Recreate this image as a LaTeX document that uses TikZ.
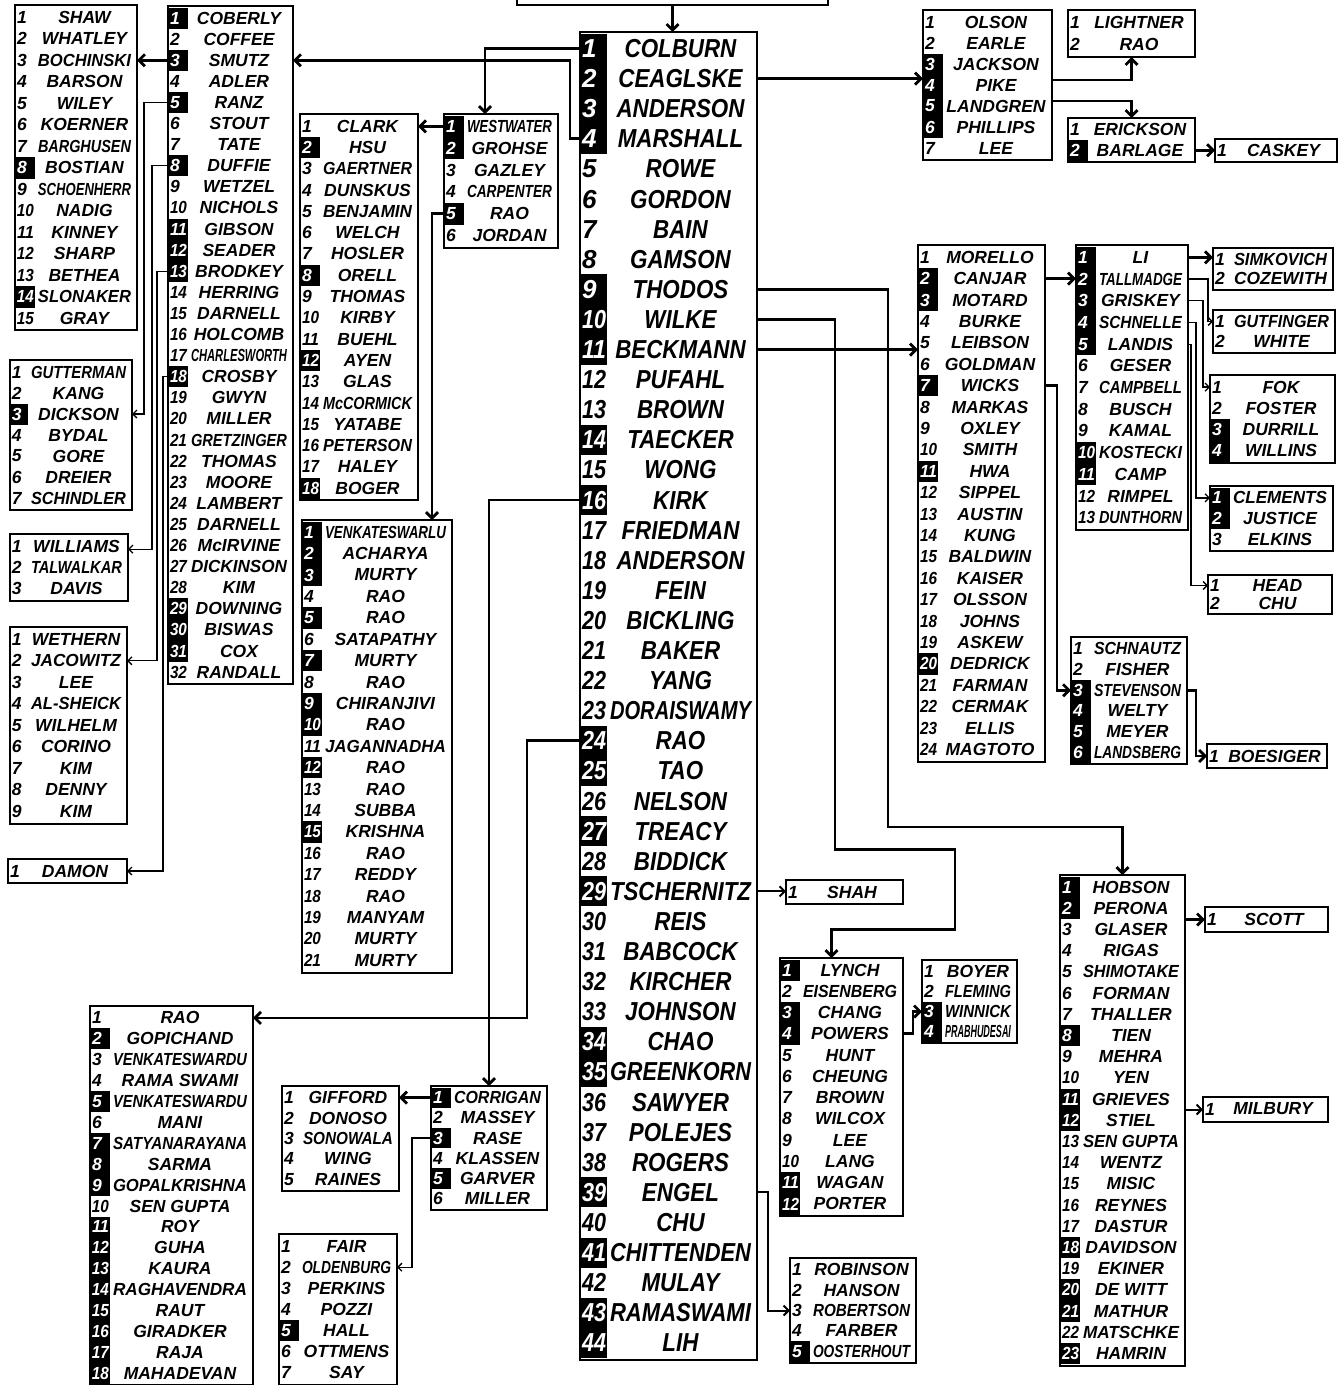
\documentclass[tikz,border=0pt]{standalone}
\usepackage{fontspec}
\setmainfont{Liberation Sans}
\usepackage{graphicx}
\usetikzlibrary{arrows.meta}

% squeeze a text so that it fits a width
\newsavebox\namebin
\newcommand{\namefit}[3]{%
  \sbox\namebin{#3}%
  \pgfmathsetmacro\namefac{min(#1,#2/\the\wd\namebin)}%
  \scalebox{\namefac}[1]{\usebox\namebin}}

% [number column]{name}{x}{y}{width}{height}{row pitch}{font size}{name/highlight,...}
\newcommand{\rollbox}[9][20]{%
  \node[listframe, minimum width=#5pt, minimum height=#6pt, anchor=north west] (#2) at (#3,#4) {};
  \pgfmathsetmacro\rbcap{#8>20 ? 0.86 : 1}%
  \pgfmathsetmacro\rbav{#5-#1-9}%
  \pgfmathsetmacro\rbnw{#1-3}%
  \def\rbfont{\fontsize{#8}{#8}\selectfont\bfseries\itshape}%
  \foreach \nm/\hl [count=\i] in {#9} {%
    \pgfmathsetmacro\ry{#4+(\i-0.5)*#7+1.5}%
    \node[rowslot, minimum width=#5pt, minimum height=#7pt] (#2-\i) at (#3+#5/2,\ry) {};
    \ifnum\hl=1
      \fill (#3,\ry-#7/2) rectangle ++(#1,#7);
      \def\rbtc{white}%
    \else
      \def\rbtc{black}%
    \fi
    \node[rowtext, font=\rbfont, text=\rbtc, anchor=west] at (#3+2,\ry) {\namefit{1}{\rbnw pt}{\i}};
    \node[rowtext, font=\rbfont] at (#3+#1+3+\rbav/2,\ry) {\namefit{\rbcap}{\rbav pt}{\nm}};
  }%
}

\begin{document}
\begin{tikzpicture}[
    x=1pt, y=-1pt,
    listframe/.style={draw, line width=1.6pt, inner sep=0pt, outer sep=0pt},
    rowslot/.style={inner sep=0pt, outer sep=0pt},
    rowtext/.style={inner sep=0pt, outer sep=0pt},
    feed/.style={line width=2.8pt, -{Straight Barb[length=6pt, width=12pt]}},
    midfeed/.style={line width=2pt, -{Straight Barb[length=5pt, width=10pt]}},
    thinfeed/.style={line width=1.3pt, -{Straight Barb[length=4pt, width=8pt]}},
    ]
    \useasboundingbox (0,0) rectangle (1339,1385);

    % Lists
    \node[listframe, minimum width=311pt, minimum height=40pt, anchor=south west] (source) at (517,5) {};
    \rollbox[27]{central}{580}{32}{177}{1328}{30.1}{26}{COLBURN/1, CEAGLSKE/1, ANDERSON/1, MARSHALL/1, ROWE/0, GORDON/0, BAIN/0, GAMSON/0, THODOS/1, WILKE/1, BECKMANN/1, PUFAHL/0, BROWN/0, TAECKER/1, WONG/0, KIRK/1, FRIEDMAN/0, ANDERSON/0, FEIN/0, BICKLING/0, BAKER/0, YANG/0, DORAISWAMY/0, RAO/1, TAO/1, NELSON/0, TREACY/1, BIDDICK/0, TSCHERNITZ/1, REIS/0, BABCOCK/0, KIRCHER/0, JOHNSON/0, CHAO/1, GREENKORN/1, SAWYER/0, POLEJES/0, ROGERS/0, ENGEL/1, CHU/0, CHITTENDEN/1, MULAY/0, RAMASWAMI/1, LIH/1}

    \rollbox{shaw}{15}{5}{122}{325}{21.5}{17.5}{SHAW/0, WHATLEY/0, BOCHINSKI/0, BARSON/0, WILEY/0, KOERNER/0, BARGHUSEN/0, BOSTIAN/1, SCHOENHERR/0, NADIG/0, KINNEY/0, SHARP/0, BETHEA/0, SLONAKER/1, GRAY/0}
    \rollbox{coberly}{168}{6}{125}{678}{21.1}{17.5}{COBERLY/1, COFFEE/0, SMUTZ/1, ADLER/0, RANZ/1, STOUT/0, TATE/0, DUFFIE/1, WETZEL/0, NICHOLS/0, GIBSON/1, SEADER/1, BRODKEY/1, HERRING/0, DARNELL/0, HOLCOMB/0, CHARLESWORTH/0, CROSBY/1, GWYN/0, MILLER/0, GRETZINGER/0, THOMAS/0, MOORE/0, LAMBERT/0, DARNELL/0, McIRVINE/0, DICKINSON/0, KIM/0, DOWNING/1, BISWAS/1, COX/1, RANDALL/0}
    \rollbox[18]{gutterman}{10}{360}{122}{150}{21}{17.5}{GUTTERMAN/0, KANG/0, DICKSON/1, BYDAL/0, GORE/0, DREIER/0, SCHINDLER/0}
    \rollbox[18]{williams}{10}{534}{118}{67}{21.3}{17.5}{WILLIAMS/0, TALWALKAR/0, DAVIS/0}
    \rollbox[18]{wethern}{10}{627}{117}{197}{21.5}{17.5}{WETHERN/0, JACOWITZ/0, LEE/0, AL-SHEICK/0, WILHELM/0, CORINO/0, KIM/0, DENNY/0, KIM/0}
    \rollbox[18]{damon}{8}{859}{119}{24}{21}{17.5}{DAMON/0}
    \rollbox{clark}{300}{114}{118}{386}{21.3}{17.5}{CLARK/0, HSU/1, GAERTNER/0, DUNSKUS/0, BENJAMIN/0, WELCH/0, HOSLER/0, ORELL/1, THOMAS/0, KIRBY/0, BUEHL/0, AYEN/1, GLAS/0, McCORMICK/0, YATABE/0, PETERSON/0, HALEY/0, BOGER/1}
    \rollbox{westwater}{444}{114}{114}{134}{21.8}{17.5}{WESTWATER/1, GROHSE/1, GAZLEY/0, CARPENTER/0, RAO/1, JORDAN/0}
    \rollbox{venkat}{302}{520}{150}{453}{21.4}{17.5}{VENKATESWARLU/1, ACHARYA/1, MURTY/1, RAO/0, RAO/1, SATAPATHY/0, MURTY/1, RAO/0, CHIRANJIVI/1, RAO/1, JAGANNADHA/0, RAO/1, RAO/0, SUBBA/0, KRISHNA/1, RAO/0, REDDY/0, RAO/0, MANYAM/0, MURTY/0, MURTY/0}

    \rollbox{olson}{923}{10}{129}{150}{21}{17.5}{OLSON/0, EARLE/0, JACKSON/1, PIKE/1, LANDGREN/1, PHILLIPS/1, LEE/0}
    \rollbox[18]{lightner}{1068}{10}{127}{47}{22}{17.5}{LIGHTNER/0, RAO/0}
    \rollbox{erickson}{1068}{118}{127}{44}{20.5}{17.5}{ERICKSON/0, BARLAGE/1}
    \rollbox[18]{caskey}{1215}{139}{122}{23}{20}{17.5}{CASKEY/0}
    \rollbox{morello}{918}{245}{127}{517}{21.4}{17.5}{MORELLO/0, CANJAR/1, MOTARD/1, BURKE/0, LEIBSON/0, GOLDMAN/0, WICKS/1, MARKAS/0, OXLEY/0, SMITH/0, HWA/1, SIPPEL/0, AUSTIN/0, KUNG/0, BALDWIN/0, KAISER/0, OLSSON/0, JOHNS/0, ASKEW/0, DEDRICK/1, FARMAN/0, CERMAK/0, ELLIS/0, MAGTOTO/0}
    \rollbox{li}{1076}{245}{112}{285}{21.7}{17.5}{LI/1, TALLMADGE/1, GRISKEY/1, SCHNELLE/1, LANDIS/1, GESER/0, CAMPBELL/0, BUSCH/0, KAMAL/0, KOSTECKI/1, CAMP/1, RIMPEL/0, DUNTHORN/0}
    \rollbox[18]{simkovich}{1213}{248}{120}{42}{19.5}{17.5}{SIMKOVICH/0, COZEWITH/0}
    \rollbox[18]{gutfinger}{1213}{310}{122}{43}{20}{17.5}{GUTFINGER/0, WHITE/0}
    \rollbox{fok}{1210}{375}{125}{88}{21.25}{17.5}{FOK/0, FOSTER/0, DURRILL/1, WILLINS/1}
    \rollbox{clements}{1210}{486}{123}{65}{20.7}{17.5}{CLEMENTS/1, JUSTICE/1, ELKINS/0}
    \rollbox[18]{head}{1208}{575}{124}{39}{18}{17.5}{HEAD/0, CHU/0}
    \rollbox{schnautz}{1071}{637}{116}{127}{20.7}{17.5}{SCHNAUTZ/0, FISHER/0, STEVENSON/1, WELTY/1, MEYER/1, LANDSBERG/1}
    \rollbox[18]{boesiger}{1207}{744}{120}{24}{21}{17.5}{BOESIGER/0}

    \rollbox[18]{shah}{786}{880}{117}{24}{21}{17.5}{SHAH/0}
    \rollbox{lynch}{780}{958}{123}{258}{21.25}{17.5}{LYNCH/1, EISENBERG/0, CHANG/1, POWERS/1, HUNT/0, CHEUNG/0, BROWN/0, WILCOX/0, LEE/0, LANG/0, WAGAN/1, PORTER/1}
    \rollbox{boyer}{922}{960}{95}{83}{20}{17.5}{BOYER/0, FLEMING/0, WINNICK/1, PRABHUDESAI/1}
    \rollbox{robinson}{790}{1258}{126}{105}{20.4}{17.5}{ROBINSON/0, HANSON/0, ROBERTSON/0, FARBER/0, OOSTERHOUT/1}
    \rollbox{hobson}{1060}{875}{125}{491}{21.2}{17.5}{HOBSON/1, PERONA/1, GLASER/0, RIGAS/0, SHIMOTAKE/0, FORMAN/0, THALLER/0, TIEN/1, MEHRA/0, YEN/0, GRIEVES/1, STIEL/1, SEN GUPTA/0, WENTZ/0, MISIC/0, REYNES/0, DASTUR/0, DAVIDSON/1, EKINER/0, DE WITT/1, MATHUR/1, MATSCHKE/0, HAMRIN/1}
    \rollbox[18]{scott}{1205}{907}{123}{25}{21}{17.5}{SCOTT/0}
    \rollbox[18]{milbury}{1203}{1097}{125}{25}{21}{17.5}{MILBURY/0}

    \rollbox{raolist}{90}{1006}{163}{379}{20.9}{17.5}{RAO/0, GOPICHAND/1, VENKATESWARDU/0, RAMA SWAMI/0, VENKATESWARDU/1, MANI/0, SATYANARAYANA/1, SARMA/1, GOPALKRISHNA/1, SEN GUPTA/0, ROY/1, GUHA/1, KAURA/1, RAGHAVENDRA/1, RAUT/1, GIRADKER/1, RAJA/1, MAHADEVAN/1}
    \rollbox[18]{gifford}{282}{1086}{117}{105}{20.4}{17.5}{GIFFORD/0, DONOSO/0, SONOWALA/0, WING/0, RAINES/0}
    \rollbox{corrigan}{431}{1086}{116}{124}{20.2}{17.5}{CORRIGAN/1, MASSEY/0, RASE/1, KLASSEN/0, GARVER/1, MILLER/0}
    \rollbox{fair}{279}{1234}{118}{151}{21.1}{17.5}{FAIR/0, OLDENBURG/0, PERKINS/0, POZZI/0, HALL/1, OTTMENS/0, SAY/0}

    % Edges
    \draw[feed] (source.south) -- (source.south |- central.north);
    \draw[feed] (central-1.west) -| ([xshift=-16pt]westwater.north);
    \draw[feed] (central-4.west) -- ++(-10,0) |- (coberly-3.east);
    \draw[feed] (coberly-3.west) -- (shaw.east |- coberly-3.west);
    \draw[thinfeed] (coberly-5.west) -- ++(-24,0) |- (gutterman-3.east);
    \draw[thinfeed] (coberly-8.west) -- ++(-16,0) |- ([yshift=-3pt]williams-1.east);
    \draw[thinfeed] (coberly-13.west) -- ++(-11,0) |- (wethern-2.east);
    \draw[thinfeed] (coberly-18.west) -- ++(-5,0) |- (damon.east);
    \draw[feed] (westwater-1.west) -- (clark.east |- westwater-1.west);
    \draw[feed] (westwater-5.west) -| ([xshift=55pt]venkat.north);

    \draw[feed] (central-2.east) -- (olson.west |- central-2.east);
    \draw[feed] ([yshift=5pt]olson-4.east) -| (lightner.south);
    \draw[feed] ([yshift=5pt]olson-5.east) -| (erickson.north);
    \draw[feed] (erickson-2.east) -- (caskey.west |- erickson-2.east);

    \draw[feed] (central-9.east) -- ++(131,0) |- ([yshift=48pt]hobson.north) -- (hobson.north);
    \draw[feed] (central-10.east) -- ++(78,0) -- ++(0,530) -- ++(120,0) -- ++(0,80) -| ([xshift=-10pt]lynch.north);
    \draw[feed] (central-11.east) -- (morello.west |- central-11.east);
    \draw[feed] (morello-2.east) -- (li.west |- morello-2.east);
    \draw[feed] (morello-7.east) -- ++(12,0) |- (schnautz-3.west);
    \draw[feed] (schnautz-3.east) -- ++(9,0) |- (boesiger.west);
    \draw[feed] (li-1.east) -- (simkovich.west |- li-1.east);
    \draw[thinfeed] (li-2.east) -- ++(20,0) |- (gutfinger-1.west);
    \draw[thinfeed] (li-3.east) -- ++(15,0) |- (fok-1.west);
    \draw[thinfeed] (li-4.east) -- ++(8,0) |- (clements-1.west);
    \draw[thinfeed] (li-5.east) -- ++(3,0) |- (head-1.west);

    \draw[midfeed] (central-29.east) -- (shah.west |- central-29.east);
    \draw[midfeed] (central-39.east) -- ++(11,0) |- (robinson-3.west);
    \draw[feed] (lynch-4.east) -- ++(10,0) |- (boyer-3.west);
    \draw[feed] (hobson.east |- scott.west) -- (scott.west);
    \draw[midfeed] (hobson.east |- milbury.west) -- (milbury.west);

    \draw[feed] (central-16.west) -| (corrigan.north);
    \draw[feed] (central-24.west) -- ++(-53,0) |- (raolist-1.east);
    \draw[feed] (corrigan-1.west) -- (gifford.east |- corrigan-1.west);
    \draw[thinfeed] (corrigan-3.west) -- ++(-19,0) |- (fair-2.east);
\end{tikzpicture}
\end{document}
